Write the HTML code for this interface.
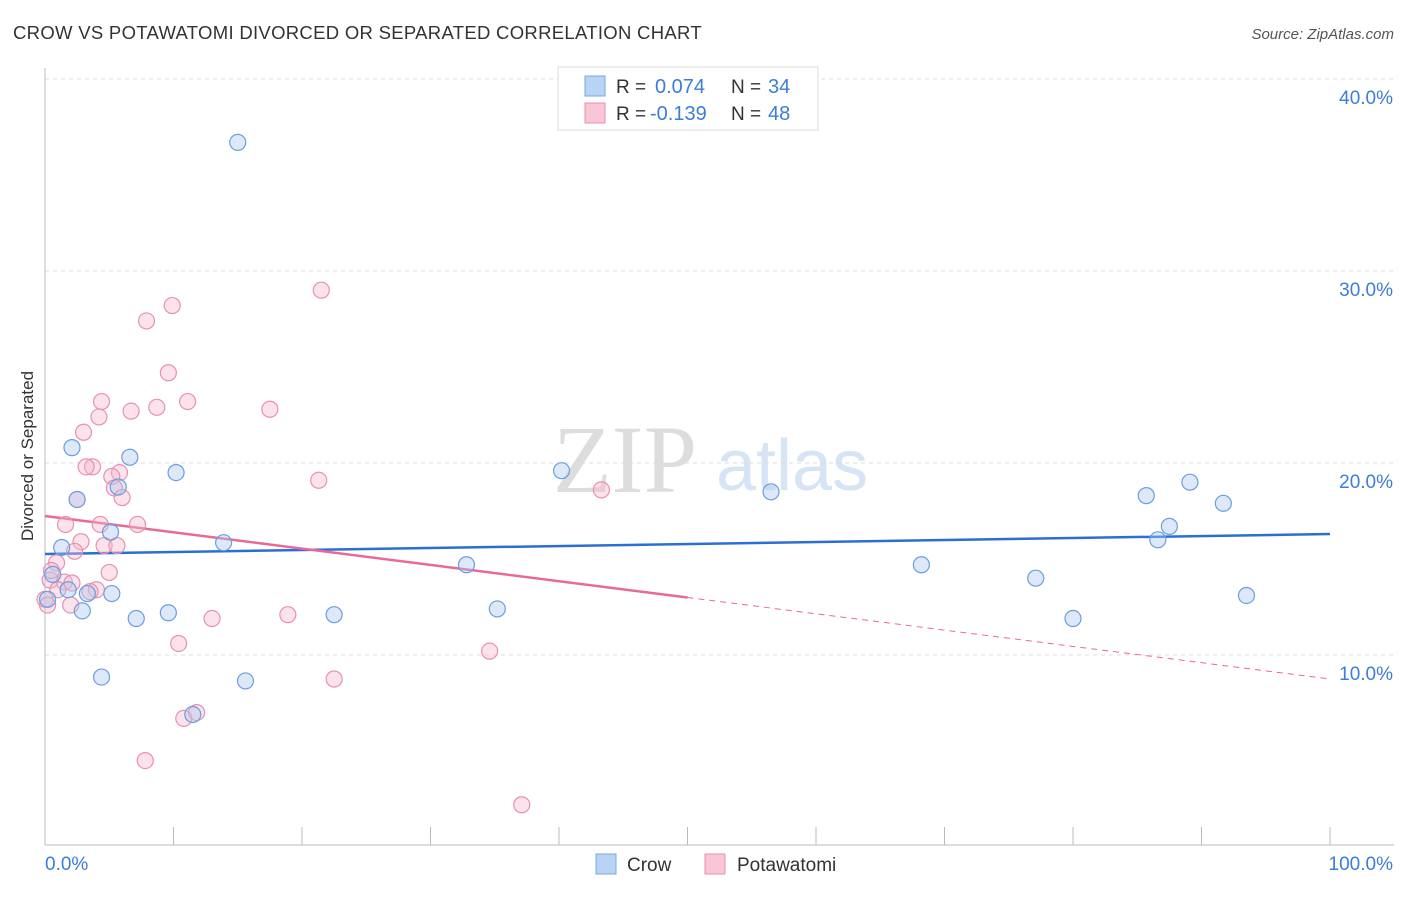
<!DOCTYPE html>
<html><head><meta charset="utf-8">
<style>
body{margin:0;background:#fff;font-family:"Liberation Sans",sans-serif;}
svg text{font-family:"Liberation Sans",sans-serif;}
</style></head>
<body>
<svg id="chart" width="1406" height="892" xmlns="http://www.w3.org/2000/svg">
<text x="13" y="39" font-size="18.5" fill="#333" letter-spacing="0.3">CROW VS POTAWATOMI DIVORCED OR SEPARATED CORRELATION CHART</text>
<text x="1394" y="39" font-size="15" fill="#555" text-anchor="end" font-style="italic">Source: ZipAtlas.com</text>
<text x="553" y="492" font-size="96" fill="#ddd" font-family="Liberation Serif" style="font-family:'Liberation Serif',serif">ZIP</text>
<text x="716" y="490" font-size="72" fill="#d6e4f5">atlas</text>
<g id="grid"></g>
<g id="axes"></g>
<g id="lines"></g>
<g id="points"></g>
<text transform="translate(33,456) rotate(-90)" font-size="17" fill="#333" text-anchor="middle">Divorced or Separated</text>
<g>
<rect x="558" y="67" width="260" height="63" fill="#fff" stroke="#ddd"/>
<rect x="585" y="76" width="20" height="20" fill="#b9d3f5" stroke="#7aa7e0"/>
<text x="616" y="93" font-size="19" fill="#333">R = </text><text x="655" y="93" font-size="20" fill="#3b7dd8">0.074</text>
<text x="731" y="93" font-size="19" fill="#333">N = </text><text x="768" y="93" font-size="20" fill="#3b7dd8">34</text>
<rect x="585" y="103" width="20" height="20" fill="#f9c6d6" stroke="#e890b0"/>
<text x="616" y="120" font-size="19" fill="#333">R = </text><text x="650" y="120" font-size="20" fill="#3b7dd8">-0.139</text>
<text x="731" y="120" font-size="19" fill="#333">N = </text><text x="768" y="120" font-size="20" fill="#3b7dd8">48</text>
</g>
<g>
<rect x="596" y="854" width="20" height="20" fill="#b9d3f5" stroke="#7aa7e0"/>
<text x="627" y="871" font-size="19" fill="#333">Crow</text>
<rect x="705" y="854" width="20" height="20" fill="#f9c6d6" stroke="#e890b0"/>
<text x="737" y="871" font-size="19" fill="#333">Potawatomi</text>
</g>
</svg>
<script>
const yTicks=[10,20,30,40];
const yTickLabels=["10.0%","20.0%","30.0%","40.0%"];
const xTicks=[0,10,20,30,40,50,60,70,80,90,100];
const crowX=[15.0,2.1,6.6,10.2,5.7,2.5,5.1,13.9,1.3,0.6,1.8,3.3,5.2,2.9,7.1,9.6,22.5,32.8,35.2,40.2,56.5,68.2,77.1,80.0,85.7,86.6,87.5,89.1,91.7,93.5,4.4,15.6,11.5,0.2];
const crowY=[36.7,20.8,20.3,19.5,18.75,18.1,16.4,15.85,15.6,14.2,13.4,13.2,13.2,12.3,11.9,12.2,12.1,14.7,12.4,19.6,18.5,14.7,14.0,11.9,18.3,16.0,16.7,19.0,17.9,13.1,8.85,8.65,6.9,12.9];
const potX=[21.5,9.9,7.9,9.6,4.4,11.1,6.7,8.7,17.5,4.2,3.0,3.7,3.2,5.8,5.2,21.3,5.4,43.3,6.0,2.5,1.6,4.3,7.2,2.8,4.6,5.6,2.3,0.9,5.0,0.4,1.5,2.1,4.0,1.0,0.0,2.0,18.9,13.0,10.4,34.6,22.5,11.8,10.8,7.8,37.1,0.2,0.5,3.5];
const potY=[29.0,28.2,27.4,24.7,23.2,23.2,22.7,22.9,22.8,22.4,21.6,19.8,19.8,19.5,19.3,19.1,18.7,18.6,18.2,18.1,16.8,16.8,16.8,15.9,15.7,15.7,15.4,14.8,14.3,13.9,13.8,13.75,13.4,13.4,12.9,12.6,12.1,11.9,10.6,10.2,8.75,7.0,6.7,4.5,2.2,12.6,14.4,13.3];
const crowFit=[15.26,16.3];
const potFit=[17.24,8.75];
const NS="http://www.w3.org/2000/svg";
const X=v=>45+v*12.85, Y=v=>847-v*19.2;
function mk(t,a,p){const e=document.createElementNS(NS,t);for(const k in a)e.setAttribute(k,a[k]);p.appendChild(e);return e;}
const grid=document.getElementById('grid'),axes=document.getElementById('axes'),lines=document.getElementById('lines'),pts=document.getElementById('points');
yTicks.forEach((t,i)=>{
 const l=mk('line',{x1:45,x2:1394,y1:Y(t),y2:Y(t),stroke:'#ddd','stroke-dasharray':'4,4'},grid);
 
 
 const tx=mk('text',{x:1393,y:Y(t)+25,'font-size':19,fill:'#3b7dd8','text-anchor':'end'},axes);
 tx.textContent=yTickLabels[i];
 
 
});
const xa=mk('line',{x1:45,x2:1394,y1:845,y2:845,stroke:'#bbb'},axes);


const ya=mk('line',{x1:45,x2:45,y1:68,y2:845,stroke:'#bbb'},axes);


xTicks.forEach(t=>{
 const l=mk('line',{x1:X(t),x2:X(t),y1:827,y2:845,stroke:'#bbb'},axes);
 
 
});
const x0=mk('text',{x:45,y:870,'font-size':19,fill:'#3b7dd8'},axes);x0.textContent='0.0%';


const x1=mk('text',{x:1393,y:870,'font-size':19,fill:'#3b7dd8','text-anchor':'end'},axes);x1.textContent='100.0%';


function pt(xs,ys,fill,stroke,name){xs.forEach((x,i)=>{
 const c=mk('circle',{cx:X(x),cy:Y(ys[i]),r:8,fill:fill,'fill-opacity':0.4,stroke:stroke,'stroke-width':1.2},pts);
 
 
});}
pt(potX,potY,'#f7b8cc','#e890b0','potawatomi-point');
pt(crowX,crowY,'#a9c8f0','#6a9ee0','crow-point');
const bl=mk('line',{x1:X(0),y1:Y(crowFit[0]),x2:X(100),y2:Y(crowFit[1]),stroke:'#2a6fd6','stroke-width':2.5},lines);


const pm=potFit[0]+(potFit[1]-potFit[0])*0.5;
const pl=mk('line',{x1:X(0),y1:Y(potFit[0]),x2:X(50),y2:Y(pm),stroke:'#e8699a','stroke-width':2.5},lines);


const pd=mk('line',{x1:X(50),y1:Y(pm),x2:X(100),y2:Y(potFit[1]),stroke:'#e8699a','stroke-width':1,'stroke-dasharray':'6,5'},lines);


</script>
</body></html>
